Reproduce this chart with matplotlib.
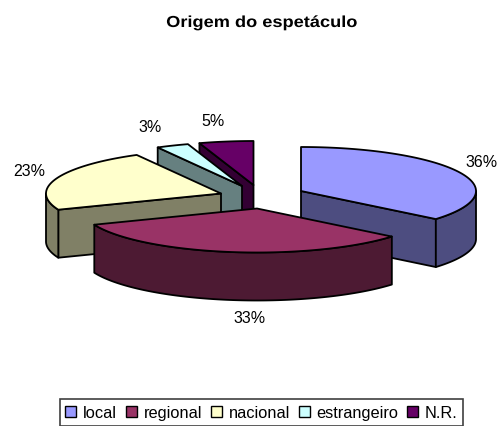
import matplotlib
matplotlib.use('Agg')
import matplotlib.pyplot as plt
from matplotlib.patches import Polygon, Patch
from matplotlib.patheffects import AbstractPathEffect
from matplotlib.transforms import Affine2D
import numpy as np

plt.rcParams['font.family'] = ['Liberation Sans', 'DejaVu Sans']

categories = ['local', 'regional', 'nacional', 'estrangeiro', 'N.R.']
values = [36, 33, 23, 3, 5]
labels = ['36%', '33%', '23%', '3%', '5%']

# layout, in pixels of the 499x427 picture
top_colors = ['#9999FF', '#993366', '#FFFFCC', '#CCFFFF', '#660066']
side_colors = ['#4D4D80', '#4D1A33', '#808066', '#668080', '#330033']
centers = [(301, 192), (257, 209.5), (221, 194.5), (242, 187), (253.5, 186)]
label_pos = [(482, 163), (250, 319), (29, 172), (150, 127), (213, 122)]
RX, RY, DEPTH = 175, 44, 48
LW = 1.3


class StretchX(AbstractPathEffect):
    # the title is spaced out in the original, matplotlib has no letter spacing
    def __init__(self, sx, cx):
        super().__init__()
        self.sx, self.cx = sx, cx

    def draw_path(self, renderer, gc, tpath, affine, rgbFace=None):
        t = affine + Affine2D().translate(-self.cx, 0).scale(self.sx, 1).translate(self.cx, 0)
        renderer.draw_path(gc, tpath, t, rgbFace)


fig = plt.figure(figsize=(4.99, 4.27), dpi=100)
ax = fig.add_axes([0, 0, 1, 1])
ax.set_xlim(0, 499)
ax.set_ylim(427, 0)
ax.axis('off')


def arc(c, a0, a1):
    t = np.radians(np.linspace(a0, a1, max(int(abs(a1 - a0)), 2) + 1))
    return np.column_stack([c[0] + RX * np.sin(t), c[1] - RY * np.cos(t)])


def shift(pts):
    return pts + [0, DEPTH]


def add(pts, color, z):
    ax.add_patch(Polygon(pts, closed=True, facecolor=color, edgecolor='black',
                         linewidth=LW, joinstyle='round', zorder=z))


# slice angles, clockwise from 12 o'clock
edges = np.cumsum([0] + values) / sum(values) * 360

# back slices first, regional stays in front
for z, i in enumerate([4, 3, 2, 0, 1]):
    a0, a1 = edges[i], edges[i + 1]
    c = np.array(centers[i], dtype=float)
    top = np.vstack([[c], arc(c, a0, a1)])
    z = z * 10

    # flat cut that faces the viewer
    if 90 < a1 < 180:
        p = arc(c, a1, a1)[-1:]
        add(np.vstack([[c], p, shift(p), shift(np.array([c]))]), side_colors[i], z)
    if 180 < a0 < 360:
        p = arc(c, a0, a0)[-1:]
        add(np.vstack([[c], p, shift(p), shift(np.array([c]))]), side_colors[i], z)

    # rim, only the part under the front half of the ellipse
    r0, r1 = max(a0, 90), min(a1, 270)
    if r1 > r0:
        rim = arc(c, r0, r1)
        add(np.vstack([rim, shift(rim)[::-1]]), side_colors[i], z + 1)

    add(top, top_colors[i], z + 2)

for lab, pos in zip(labels, label_pos):
    ax.text(pos[0], pos[1], lab, fontsize=11.5, ha='center', va='center', color='black')

ax.text(262, 28, 'Origem do espetáculo', fontsize=11.5, fontweight='bold', ha='center',
        va='baseline', color='black', path_effects=[StretchX(1.14, 262)])

handles = [Patch(facecolor=c, edgecolor='black', linewidth=1) for c in top_colors]
leg = ax.legend(handles, categories, ncol=5, loc='center', bbox_to_anchor=(261.5 / 499, 1 - 413.5 / 427),
                fontsize=11.8, fancybox=False, framealpha=1, edgecolor='#404040',
                handlelength=0.67, handleheight=0.67, handletextpad=0.4, columnspacing=0.55,
                borderpad=0.35, borderaxespad=0)
leg.get_frame().set_linewidth(1.2)

fig.savefig('out.png', dpi=100)
